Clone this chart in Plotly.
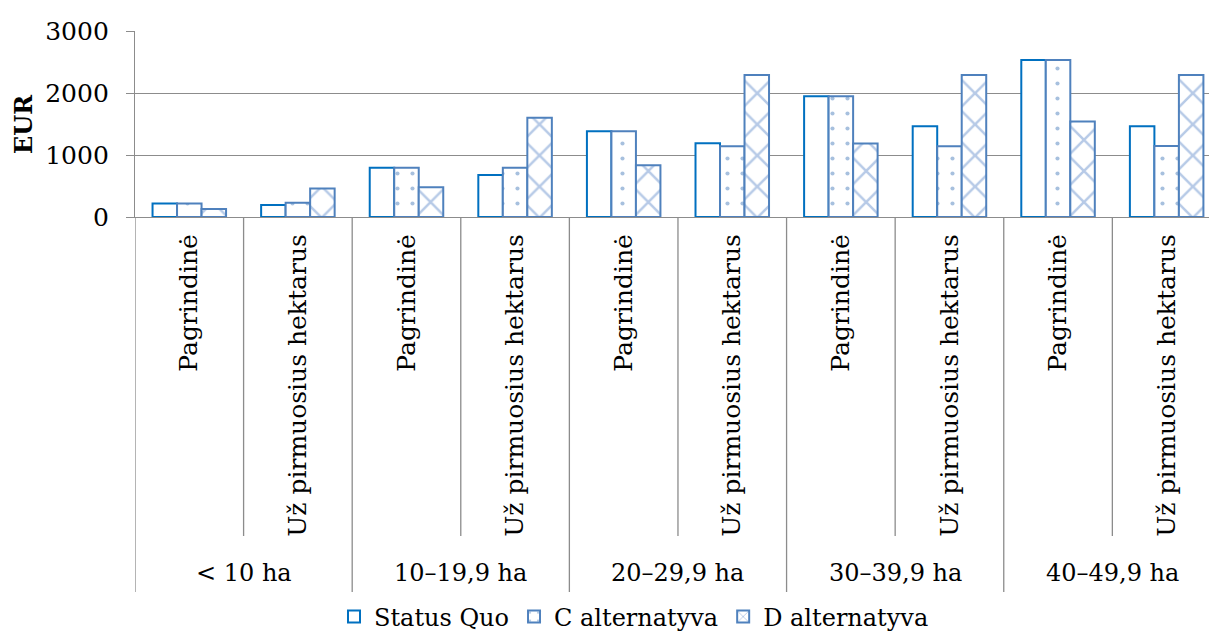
import plotly.graph_objects as go

groups = ["< 10 ha", "10–19,9 ha", "20–29,9 ha", "30–39,9 ha", "40–49,9 ha"]
subcats = ["Pagrindinė", "Už pirmuosius hektarus"] * 5
series_names = ["Status Quo", "C alternatyva", "D alternatyva"]
status_quo = [219, 194, 795, 677, 1384, 1190, 1949, 1462, 2532, 1465]
c_alt = [219, 231, 795, 795, 1384, 1142, 1949, 1142, 2532, 1145]
d_alt = [129, 461, 478, 1602, 835, 2292, 1185, 2292, 1539, 2290]
y_ticks = [0, 1000, 2000, 3000]

FONT = "DejaVu Serif"
GRID = "#8c8c8c"
BLUE = "#0070C0"
STEEL = "#4F81BD"
PAT = "#6F96CF"

xpos = list(range(len(subcats)))

fig = go.Figure()
fig.add_trace(go.Bar(
    x=xpos, y=status_quo, name=series_names[0],
    marker=dict(color="white", line=dict(color=BLUE, width=2)),
))
fig.add_trace(go.Bar(
    x=xpos, y=c_alt, name=series_names[1],
    marker=dict(color="white", line=dict(color=STEEL, width=2),
                pattern=dict(shape=".", size=15, solidity=0.06,
                             fgcolor=STEEL, bgcolor="white")),
))
fig.add_trace(go.Bar(
    x=xpos, y=d_alt, name=series_names[2],
    marker=dict(color="white", line=dict(color=STEEL, width=2),
                pattern=dict(shape="x", size=22, solidity=0.22,
                             fgcolor=PAT, bgcolor="white")),
))

# plot area geometry: y from 31 (3000) to 217 (0)
top_px, bot_px = 31, 217
h_px = bot_px - top_px

def py(pix):
    return (bot_px - pix) / h_px

shapes = []
# separators between sub-categories (short) and groups (long)
for i in range(len(subcats) + 1):
    xb = i - 0.5
    y_end = py(592) if i % 2 == 0 else py(536)
    shapes.append(dict(type="line", xref="x", yref="paper",
                       x0=xb, x1=xb, y0=0, y1=y_end,
                       line=dict(color=GRID, width=1.3)))

annotations = []
for g, name in enumerate(groups):
    annotations.append(dict(x=2 * g + 0.5, xref="x", y=py(573), yref="paper",
                            text=name, showarrow=False, xanchor="center",
                            yanchor="middle", font=dict(family=FONT, size=24, color="black")))
annotations.append(dict(x=(23 - 135) / 1074, xref="paper", y=0.5, yref="paper",
                        text="<b>EUR</b>", showarrow=False, textangle=-90,
                        xanchor="center", yanchor="middle",
                        font=dict(family=FONT, size=24, color="black")))

fig.update_layout(
    width=1209, height=632,
    margin=dict(l=135, r=0, t=top_px, b=632 - bot_px, pad=0),
    paper_bgcolor="white", plot_bgcolor="white",
    barmode="group", bargap=0.323, bargroupgap=0,
    font=dict(family=FONT, size=24, color="black"),
    shapes=shapes, annotations=annotations,
    legend=dict(orientation="h", xref="paper", x=(634 - 135) / 1074, xanchor="center",
                yref="container", y=(632 - 617) / 632, yanchor="middle",
                font=dict(family=FONT, size=24, color="black"),
                itemwidth=30, tracegroupgap=0, bgcolor="rgba(0,0,0,0)"),
    xaxis=dict(range=[-0.5, 9.39], tickmode="array", tickvals=xpos, ticktext=subcats,
               tickangle=-90, ticks="", showline=True, linecolor=GRID, linewidth=1.3,
               showgrid=False, zeroline=False, automargin=False, ticklabelstandoff=6,
               tickfont=dict(family=FONT, size=25, color="black")),
    yaxis=dict(range=[0, 3000], tickmode="array", tickvals=y_ticks,
               ticks="outside", ticklen=8, tickcolor=GRID, tickwidth=1.3,
               showline=True, linecolor=GRID, linewidth=1.3,
               showgrid=True, gridcolor=GRID, gridwidth=1.3, zeroline=False,
               automargin=False, ticklabelstandoff=12,
               tickfont=dict(family=FONT, size=25, color="black")),
)

fig.write_html(
    "out.html",
    config={"displayModeBar": False},
    post_script="document.body.style.margin='0';document.body.style.overflow='hidden';",
)
